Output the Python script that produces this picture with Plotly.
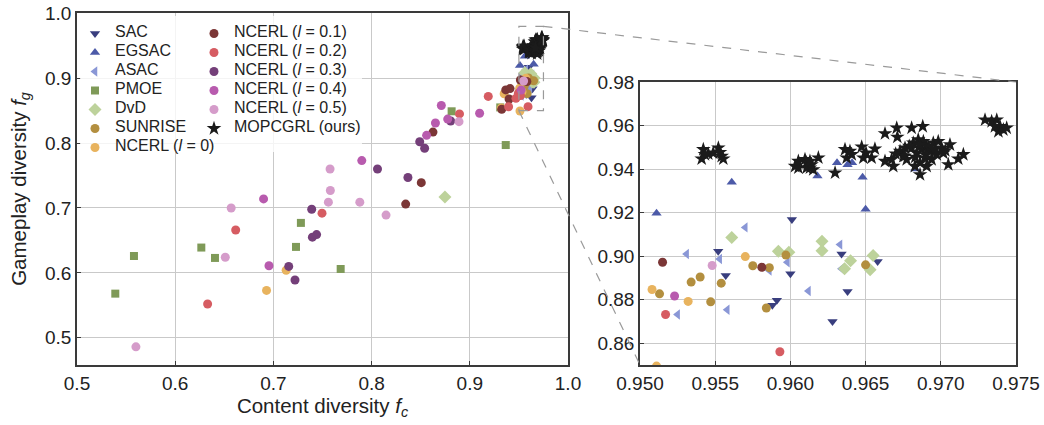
import plotly.graph_objects as go

# ---------------- data ----------------
sac_x = [0.9552, 0.9557, 0.9601, 0.9600, 0.9591, 0.9588, 0.9634, 0.9638, 0.9628, 0.9658]
sac_y = [0.9022, 0.8911, 0.9168, 0.8919, 0.8797, 0.8774, 0.9010, 0.8838, 0.8700, 0.8975]

egsac_x = [0.9511, 0.9561, 0.9618, 0.9631, 0.9638, 0.9641, 0.9648, 0.9650, 0.9683]
egsac_y = [0.9197, 0.9340, 0.9368, 0.9429, 0.9420, 0.9429, 0.9363, 0.9216, 0.9400]

asac_x = [0.9531, 0.9525, 0.9553, 0.9558, 0.9570, 0.9586, 0.9598, 0.9612, 0.9633, 0.9634]
asac_y = [0.9010, 0.8732, 0.8987, 0.8754, 0.9132, 0.8934, 0.8972, 0.8840, 0.9053, 0.8942]

pmoe_x = [0.539, 0.558, 0.6266, 0.6405, 0.728, 0.723, 0.7685, 0.8815, 0.9366, 0.9310]
pmoe_y = [0.568, 0.626, 0.639, 0.623, 0.677, 0.640, 0.606, 0.849, 0.797, 0.855]

dvd_x = [0.8747, 0.9561, 0.9592, 0.9599, 0.9621, 0.9621, 0.9640, 0.9636, 0.9655, 0.9653]
dvd_y = [0.717, 0.9086, 0.9022, 0.9018, 0.9068, 0.9025, 0.8979, 0.8942, 0.9003, 0.8937]

sunrise_x = [0.9513, 0.9534, 0.9540, 0.9547, 0.9554, 0.9575, 0.9586, 0.9584, 0.9597, 0.9650]
sunrise_y = [0.8827, 0.8881, 0.8904, 0.8790, 0.8876, 0.8956, 0.8947, 0.8762, 0.9005, 0.8960]

ncerl0_x = [0.693, 0.713, 0.935, 0.932, 0.9508, 0.9532, 0.9570, 0.9511]
ncerl0_y = [0.573, 0.604, 0.876, 0.854, 0.8847, 0.8792, 0.8998, 0.8495]

ncerl1_x = [0.8506, 0.8347, 0.8625, 0.9366, 0.941, 0.940, 0.9325, 0.9515, 0.9581]
ncerl1_y = [0.739, 0.706, 0.817, 0.882, 0.884, 0.868, 0.852, 0.8972, 0.8949]

ncerl2_x = [0.633, 0.6616, 0.7495, 0.8895, 0.9188, 0.9395, 0.947, 0.9495, 0.9517, 0.9593]
ncerl2_y = [0.552, 0.666, 0.692, 0.845, 0.872, 0.856, 0.869, 0.877, 0.8732, 0.8561]

ncerl3_x = [0.7156, 0.722, 0.739, 0.7397, 0.744, 0.806, 0.837, 0.849, 0.854, 0.8805]
ncerl3_y = [0.610, 0.589, 0.698, 0.655, 0.659, 0.760, 0.747, 0.802, 0.792, 0.834]

ncerl4_x = [0.690, 0.6955, 0.790, 0.856, 0.865, 0.871, 0.8775, 0.910, 0.9523]
ncerl4_y = [0.714, 0.611, 0.773, 0.812, 0.831, 0.858, 0.837, 0.846, 0.8817]

ncerl5_x = [0.560, 0.657, 0.651, 0.756, 0.758, 0.7577, 0.788, 0.8147, 0.889, 0.9548]
ncerl5_y = [0.486, 0.700, 0.624, 0.709, 0.727, 0.760, 0.709, 0.689, 0.833, 0.8957]

mop_x = [0.95421, 0.9541, 0.95454, 0.95487, 0.95521, 0.95543, 0.95554, 0.95532, 0.95432,
         0.96053, 0.96108, 0.9613, 0.96031, 0.96053, 0.96097, 0.96108, 0.96141, 0.96152, 0.96186, 0.9613,
         0.96297, 0.96363, 0.96396, 0.96374, 0.96408,
         0.96474, 0.96503, 0.96485, 0.9654, 0.96562,
         0.96629, 0.96629, 0.96673,
         0.96707, 0.96711, 0.96684, 0.96729, 0.96762, 0.96773, 0.96751,
         0.96806, 0.9688,
         0.96817, 0.9685, 0.96884, 0.96906, 0.96873, 0.9684, 0.96806, 0.96928, 0.9695, 0.96983,
         0.97006, 0.96973, 0.96939, 0.96895, 0.96862, 0.96828, 0.97017, 0.96906, 0.96862,
         0.9705, 0.97061, 0.97116, 0.9715,
         0.96790, 0.96860, 0.96920, 0.96960, 0.96760, 0.96830, 0.96900, 0.97030, 0.96700,
         0.97294, 0.97338, 0.97372, 0.97394, 0.97416, 0.97383, 0.97438, 0.9736]
mop_y = [0.9490, 0.9447, 0.9470, 0.9474, 0.9497, 0.9459, 0.9447, 0.9477, 0.9467,
         0.9406, 0.9429, 0.9406, 0.9413, 0.9436, 0.9444, 0.9406, 0.9421, 0.9398, 0.9452, 0.9436,
         0.9383, 0.9490, 0.9482, 0.9452, 0.9467,
         0.9502, 0.9474, 0.9452, 0.9452, 0.9493,
         0.9563, 0.9436, 0.9444,
         0.9589, 0.9547, 0.9413, 0.9482, 0.9497, 0.9444, 0.9459,
         0.9589, 0.9596,
         0.9520, 0.9535, 0.9527, 0.9505, 0.9490, 0.9474, 0.9497, 0.9482, 0.9520, 0.9527,
         0.9497, 0.9467, 0.9444, 0.9452, 0.9429, 0.9413, 0.9474, 0.9413, 0.9375,
         0.9421, 0.9512, 0.9447, 0.9467,
         0.9505, 0.9510, 0.9500, 0.9490, 0.9460, 0.9455, 0.9465, 0.9485, 0.9470,
         0.9626, 0.9619, 0.9626, 0.9596, 0.9581, 0.9573, 0.9589, 0.9596]

LEG = '<span style="font-size:16px">%s</span>'
series = [
    ("SAC", sac_x, sac_y, "triangle-down", "#393e7e", 9, "legend"),
    ("EGSAC", egsac_x, egsac_y, "triangle-up", "#4c5aa8", 9, "legend"),
    ("ASAC", asac_x, asac_y, "triangle-left", "#8a97d6", 9, "legend"),
    ("PMOE", pmoe_x, pmoe_y, "square", "#7f9a58", 8, "legend"),
    ("DvD", dvd_x, dvd_y, "diamond", "#bdd29b", 10, "legend"),
    ("SUNRISE", sunrise_x, sunrise_y, "circle", "#b38f3f", 9, "legend"),
    ("NCERL (<i>l</i> = 0)", ncerl0_x, ncerl0_y, "circle", "#e8b35e", 9, "legend"),
    ("NCERL (<i>l</i> = 0.1)", ncerl1_x, ncerl1_y, "circle", "#7b3636", 9, "legend2"),
    ("NCERL (<i>l</i> = 0.2)", ncerl2_x, ncerl2_y, "circle", "#d65c62", 9, "legend2"),
    ("NCERL (<i>l</i> = 0.3)", ncerl3_x, ncerl3_y, "circle", "#743f79", 9, "legend2"),
    ("NCERL (<i>l</i> = 0.4)", ncerl4_x, ncerl4_y, "circle", "#b85bae", 9, "legend2"),
    ("NCERL (<i>l</i> = 0.5)", ncerl5_x, ncerl5_y, "circle", "#d59cca", 9, "legend2"),
    ("MOPCGRL (ours)", mop_x, mop_y, "star", "#1b1b1b", 11, "legend2"),
]

# ---------------- layout geometry ----------------
W, H = 1044, 425
main_xdom = [77 / W, 568 / W]
main_ydom = [1 - 365 / H, 1 - 13 / H]
ins_xdom = [640 / W, 1016 / W]
ins_ydom = [1 - 365 / H, 1 - 82 / H]
main_xr = [0.5, 1.0]
main_yr = [0.458, 1.0005]
ins_xr = [0.95, 0.975]
ins_yr = [0.85, 0.98]

FONT = "Liberation Sans, Arial, Helvetica, sans-serif"
TXT = "#222222"

fig = go.Figure()
for name, xs, ys, sym, col, sz, lg in series:
    fig.add_trace(go.Scatter(x=xs, y=ys, mode="markers", name=LEG % name, legend=lg,
                             marker=dict(symbol=sym, color=col, size=sz, line=dict(width=0)),
                             xaxis="x", yaxis="y", showlegend=True))
for name, xs, ys, sym, col, sz, lg in series:
    fig.add_trace(go.Scatter(x=xs, y=ys, mode="markers", name=name, legend=lg,
                             marker=dict(symbol=sym, color=col, size=sz, line=dict(width=0)),
                             xaxis="x2", yaxis="y2", showlegend=False))

axis_common = dict(showgrid=True, gridcolor="#c9c9c9", gridwidth=1, zeroline=False,
                   showline=True, linecolor="#3a3a3a", linewidth=1.5, mirror=True,
                   ticks="inside", ticklen=4, tickcolor="#3a3a3a", automargin=False,
                   ticklabeloverflow="allow",
                   tickfont=dict(family=FONT, size=19, color=TXT))


def to_paper(v, dom, rng):
    return dom[0] + (v - rng[0]) / (rng[1] - rng[0]) * (dom[1] - dom[0])


fig.update_layout(
    width=W, height=H, margin=dict(l=0, r=0, t=0, b=0),
    paper_bgcolor="white", plot_bgcolor="white",
    font=dict(family=FONT, color=TXT),
    xaxis=dict(domain=main_xdom, range=main_xr, dtick=0.1, tick0=0.5, tickformat=".1f",
               title=dict(text="Content diversity <i>f</i><sub><i>c</i></sub>",
                          font=dict(family=FONT, size=20.5, color=TXT), standoff=6),
               **axis_common),
    yaxis=dict(domain=main_ydom, range=main_yr, dtick=0.1, tick0=0.5, tickformat=".1f",
               title=dict(text="Gameplay diversity <i>f</i><sub><i>g</i></sub>",
                          font=dict(family=FONT, size=20.5, color=TXT), standoff=13),
               **axis_common),
    xaxis2=dict(domain=ins_xdom, range=ins_xr, dtick=0.005, tick0=0.95, tickformat=".3f",
                anchor="y2", **axis_common),
    yaxis2=dict(domain=ins_ydom, range=ins_yr, dtick=0.02, tick0=0.86, tickformat=".2f",
                anchor="x2", **axis_common),
    legend=dict(x=75 / W, y=1 - 19 / H, xanchor="left", yanchor="top",
                bgcolor="rgba(0,0,0,0)", font=dict(family=FONT, size=10.2, color=TXT),
                itemwidth=30, tracegroupgap=0),
    legend2=dict(x=194 / W, y=1 - 19 / H, xanchor="left", yanchor="top",
                 bgcolor="rgba(0,0,0,0)", font=dict(family=FONT, size=10.2, color=TXT),
                 itemwidth=30, tracegroupgap=0),
)

# legend backdrop
fig.add_shape(type="rect", xref="paper", yref="paper", x0=80 / W, x1=362 / W,
              y0=1 - 152 / H, y1=1 - 16 / H, fillcolor="rgba(255,255,255,0.8)",
              line=dict(width=0), layer="above")

# zoom box on main axes
fig.add_shape(type="rect", xref="x", yref="y", x0=ins_xr[0], x1=ins_xr[1],
              y0=ins_yr[0], y1=ins_yr[1], line=dict(color="#9a9a9a", width=1.2, dash="dash"),
              layer="above")

# connector lines
fig.add_shape(type="line", xref="paper", yref="paper",
              x0=to_paper(ins_xr[1], main_xdom, main_xr), y0=to_paper(ins_yr[1], main_ydom, main_yr),
              x1=ins_xdom[1], y1=ins_ydom[1],
              line=dict(color="#9a9a9a", width=1.2, dash="dash"), layer="above")
fig.add_shape(type="line", xref="paper", yref="paper",
              x0=to_paper(ins_xr[0], main_xdom, main_xr), y0=to_paper(ins_yr[0], main_ydom, main_yr),
              x1=ins_xdom[0], y1=ins_ydom[0],
              line=dict(color="#9a9a9a", width=1.2, dash="dash"), layer="above")

fig.write_html("out.html", config={"displayModeBar": False},
               post_script="document.body.style.margin='0';document.body.style.overflow='hidden';")
